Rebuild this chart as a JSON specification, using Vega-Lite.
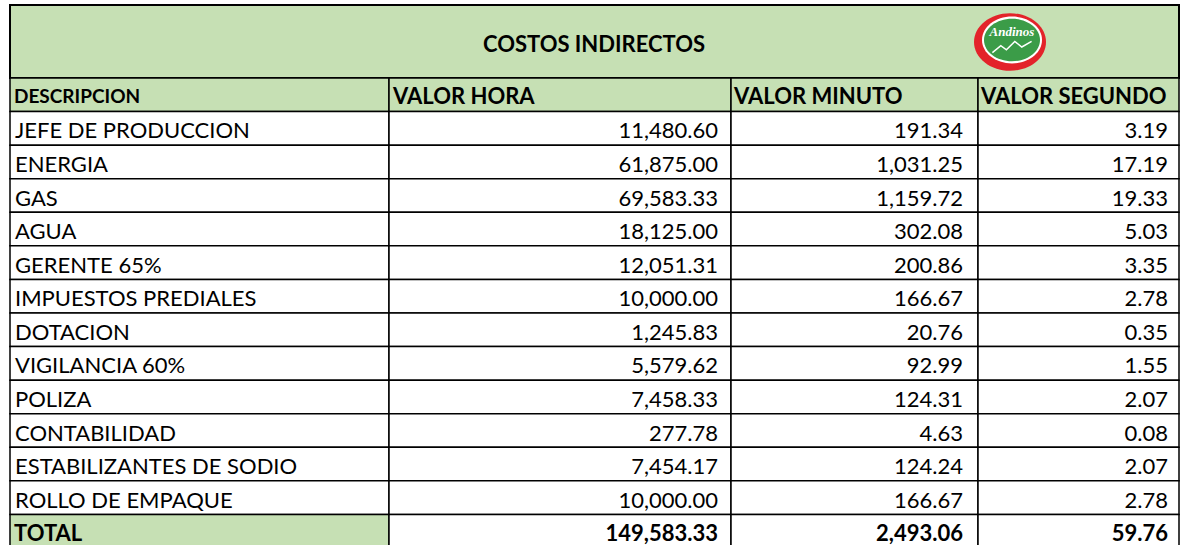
{
  "$schema": "https://vega.github.io/schema/vega-lite/v6.json",
  "background": "white",
  "padding": {"left": 9, "top": 4, "right": 0, "bottom": 0},
  "spacing": 0,
  "bounds": "flush",
  "config": {
    "view": {"stroke": null},
    "concat": {"spacing": 0},
    "text": {"font": "Lato", "fontSize": 22, "color": "black"}
  },
  "datasets": {
    "titulo": [{"texto": "COSTOS INDIRECTOS", "marca": "Andinos"}],
    "encabezados": [
      {"fila": 0, "columna": "descripcion", "titulo": "DESCRIPCION"},
      {"fila": 0, "columna": "hora", "titulo": "VALOR HORA"},
      {"fila": 0, "columna": "minuto", "titulo": "VALOR MINUTO"},
      {"fila": 0, "columna": "segundo", "titulo": "VALOR SEGUNDO"}
    ],
    "costos": [
      {"fila": 1, "descripcion": "JEFE DE PRODUCCION", "hora": 11480.60, "minuto": 191.34, "segundo": 3.19},
      {"fila": 2, "descripcion": "ENERGIA", "hora": 61875.00, "minuto": 1031.25, "segundo": 17.19},
      {"fila": 3, "descripcion": "GAS", "hora": 69583.33, "minuto": 1159.72, "segundo": 19.33},
      {"fila": 4, "descripcion": "AGUA", "hora": 18125.00, "minuto": 302.08, "segundo": 5.03},
      {"fila": 5, "descripcion": "GERENTE 65%", "hora": 12051.31, "minuto": 200.86, "segundo": 3.35},
      {"fila": 6, "descripcion": "IMPUESTOS PREDIALES", "hora": 10000.00, "minuto": 166.67, "segundo": 2.78},
      {"fila": 7, "descripcion": "DOTACION", "hora": 1245.83, "minuto": 20.76, "segundo": 0.35},
      {"fila": 8, "descripcion": "VIGILANCIA 60%", "hora": 5579.62, "minuto": 92.99, "segundo": 1.55},
      {"fila": 9, "descripcion": "POLIZA", "hora": 7458.33, "minuto": 124.31, "segundo": 2.07},
      {"fila": 10, "descripcion": "CONTABILIDAD", "hora": 277.78, "minuto": 4.63, "segundo": 0.08},
      {"fila": 11, "descripcion": "ESTABILIZANTES DE SODIO", "hora": 7454.17, "minuto": 124.24, "segundo": 2.07},
      {"fila": 12, "descripcion": "ROLLO DE EMPAQUE", "hora": 10000.00, "minuto": 166.67, "segundo": 2.78},
      {"fila": 13, "descripcion": "TOTAL", "hora": 149583.33, "minuto": 2493.06, "segundo": 59.76}
    ]
  },
  "vconcat": [
    {
      "width": 1169,
      "height": 73,
      "view": {"fill": "#c6e0b4", "stroke": "black", "strokeWidth": 2},
      "data": {"name": "titulo"},
      "layer": [
        {
          "mark": {"type": "text", "fontWeight": "bold", "fontSize": 22, "align": "center", "baseline": "middle", "dy": 3},
          "encoding": {"x": {"value": 584}, "y": {"value": 37}, "text": {"field": "texto"}}
        },
        {
          "mark": {"type": "point", "filled": true, "fill": "#e3232a", "opacity": 1, "shape": "M-1,0A1,0.8,0,1,0,1,0A1,0.8,0,1,0,-1,0Z"},
          "encoding": {"x": {"value": 1000}, "y": {"value": 37}, "size": {"value": 5184}}
        },
        {
          "mark": {"type": "point", "filled": true, "fill": "white", "opacity": 1, "shape": "M-1,0A1,0.78,0,1,0,1,0A1,0.78,0,1,0,-1,0Z"},
          "encoding": {"x": {"value": 1002}, "y": {"value": 35}, "size": {"value": 3600}}
        },
        {
          "mark": {"type": "point", "filled": true, "fill": "#3b9c48", "opacity": 1, "shape": "M-1,0A1,0.76,0,1,0,1,0A1,0.76,0,1,0,-1,0Z"},
          "encoding": {"x": {"value": 1002}, "y": {"value": 35}, "size": {"value": 3136}}
        },
        {
          "mark": {"type": "point", "filled": false, "stroke": "white", "strokeWidth": 1.5, "opacity": 1, "shape": "M-0.7,0.45L-0.4,0.2L-0.2,0.35L0.1,0.05L0.35,0.25L0.7,0.05"},
          "encoding": {"x": {"value": 1002}, "y": {"value": 35}, "size": {"value": 3136}}
        },
        {
          "mark": {"type": "text", "font": "Liberation Serif", "fontStyle": "italic", "fontWeight": "bold", "fontSize": 13, "fill": "white", "align": "center", "baseline": "middle"},
          "encoding": {"x": {"value": 1002}, "y": {"value": 27}, "text": {"field": "marca"}}
        }
      ]
    },
    {
      "spacing": 0,
      "bounds": "flush",
      "hconcat": [
        {
          "width": 379,
          "height": 470,
          "layer": [
            {
              "data": {"name": "encabezados"},
              "transform": [{"filter": "datum.columna === 'descripcion'"}],
              "mark": {"type": "rect", "fill": "#c6e0b4", "stroke": "black", "strokeWidth": 1.5},
              "encoding": {"x": {"value": 0}, "x2": {"value": "width"}, "y": {"field": "fila", "type": "ordinal", "axis": null, "scale": {"paddingInner": 0, "paddingOuter": 0}}}
            },
            {
              "data": {"name": "encabezados"},
              "transform": [{"filter": "datum.columna === 'descripcion'"}],
              "mark": {"type": "text", "fontWeight": "bold", "align": "left", "baseline": "middle", "dy": 2, "fontSize": 19},
              "encoding": {"x": {"value": 4}, "y": {"field": "fila", "type": "ordinal"}, "text": {"field": "titulo"}}
            },
            {
              "data": {"name": "costos"},
              "mark": {"type": "rect", "stroke": "black", "strokeWidth": 1.5},
              "encoding": {
                "x": {"value": 0}, "x2": {"value": "width"},
                "y": {"field": "fila", "type": "ordinal"},
                "fill": {"condition": {"test": "datum.descripcion === 'TOTAL'", "value": "#c6e0b4"}, "value": "white"}
              }
            },
            {
              "data": {"name": "costos"},
              "transform": [{"filter": "datum.descripcion !== 'TOTAL'"}],
              "mark": {"type": "text", "align": "left", "baseline": "middle", "dy": 3},
              "encoding": {"x": {"value": 5}, "y": {"field": "fila", "type": "ordinal"}, "text": {"field": "descripcion"}}
            },
            {
              "data": {"name": "costos"},
              "transform": [{"filter": "datum.descripcion === 'TOTAL'"}],
              "mark": {"type": "text", "align": "left", "baseline": "middle", "dy": 3, "fontWeight": "bold"},
              "encoding": {"x": {"value": 4}, "y": {"field": "fila", "type": "ordinal"}, "text": {"field": "descripcion"}}
            }
          ]
        },
        {
          "width": 342,
          "height": 470,
          "layer": [
            {
              "data": {"name": "encabezados"},
              "transform": [{"filter": "datum.columna === 'hora'"}],
              "mark": {"type": "rect", "fill": "#c6e0b4", "stroke": "black", "strokeWidth": 1.5},
              "encoding": {"x": {"value": 0}, "x2": {"value": "width"}, "y": {"field": "fila", "type": "ordinal", "axis": null, "scale": {"paddingInner": 0, "paddingOuter": 0}}}
            },
            {
              "data": {"name": "encabezados"},
              "transform": [{"filter": "datum.columna === 'hora'"}],
              "mark": {"type": "text", "fontWeight": "bold", "align": "left", "baseline": "middle", "dy": 2},
              "encoding": {"x": {"value": 4}, "y": {"field": "fila", "type": "ordinal"}, "text": {"field": "titulo"}}
            },
            {
              "data": {"name": "costos"},
              "mark": {"type": "rect", "fill": "white", "stroke": "black", "strokeWidth": 1.5},
              "encoding": {"x": {"value": 0}, "x2": {"value": "width"}, "y": {"field": "fila", "type": "ordinal"}}
            },
            {
              "data": {"name": "costos"},
              "transform": [{"filter": "datum.descripcion !== 'TOTAL'"}],
              "mark": {"type": "text", "align": "right", "baseline": "middle", "dy": 3, "dx": -13},
              "encoding": {"x": {"value": "width"}, "y": {"field": "fila", "type": "ordinal"}, "text": {"field": "hora", "type": "quantitative", "format": ",.2f"}}
            },
            {
              "data": {"name": "costos"},
              "transform": [{"filter": "datum.descripcion === 'TOTAL'"}],
              "mark": {"type": "text", "align": "right", "baseline": "middle", "dy": 3, "dx": -13, "fontWeight": "bold"},
              "encoding": {"x": {"value": "width"}, "y": {"field": "fila", "type": "ordinal"}, "text": {"field": "hora", "type": "quantitative", "format": ",.2f"}}
            }
          ]
        },
        {
          "width": 247,
          "height": 470,
          "layer": [
            {
              "data": {"name": "encabezados"},
              "transform": [{"filter": "datum.columna === 'minuto'"}],
              "mark": {"type": "rect", "fill": "#c6e0b4", "stroke": "black", "strokeWidth": 1.5},
              "encoding": {"x": {"value": 0}, "x2": {"value": "width"}, "y": {"field": "fila", "type": "ordinal", "axis": null, "scale": {"paddingInner": 0, "paddingOuter": 0}}}
            },
            {
              "data": {"name": "encabezados"},
              "transform": [{"filter": "datum.columna === 'minuto'"}],
              "mark": {"type": "text", "fontWeight": "bold", "align": "left", "baseline": "middle", "dy": 2},
              "encoding": {"x": {"value": 3}, "y": {"field": "fila", "type": "ordinal"}, "text": {"field": "titulo"}}
            },
            {
              "data": {"name": "costos"},
              "mark": {"type": "rect", "fill": "white", "stroke": "black", "strokeWidth": 1.5},
              "encoding": {"x": {"value": 0}, "x2": {"value": "width"}, "y": {"field": "fila", "type": "ordinal"}}
            },
            {
              "data": {"name": "costos"},
              "transform": [{"filter": "datum.descripcion !== 'TOTAL'"}],
              "mark": {"type": "text", "align": "right", "baseline": "middle", "dy": 3, "dx": -15},
              "encoding": {"x": {"value": "width"}, "y": {"field": "fila", "type": "ordinal"}, "text": {"field": "minuto", "type": "quantitative", "format": ",.2f"}}
            },
            {
              "data": {"name": "costos"},
              "transform": [{"filter": "datum.descripcion === 'TOTAL'"}],
              "mark": {"type": "text", "align": "right", "baseline": "middle", "dy": 3, "dx": -15, "fontWeight": "bold"},
              "encoding": {"x": {"value": "width"}, "y": {"field": "fila", "type": "ordinal"}, "text": {"field": "minuto", "type": "quantitative", "format": ",.2f"}}
            }
          ]
        },
        {
          "width": 201,
          "height": 470,
          "layer": [
            {
              "data": {"name": "encabezados"},
              "transform": [{"filter": "datum.columna === 'segundo'"}],
              "mark": {"type": "rect", "fill": "#c6e0b4", "stroke": "black", "strokeWidth": 1.5},
              "encoding": {"x": {"value": 0}, "x2": {"value": "width"}, "y": {"field": "fila", "type": "ordinal", "axis": null, "scale": {"paddingInner": 0, "paddingOuter": 0}}}
            },
            {
              "data": {"name": "encabezados"},
              "transform": [{"filter": "datum.columna === 'segundo'"}],
              "mark": {"type": "text", "fontWeight": "bold", "align": "left", "baseline": "middle", "dy": 2},
              "encoding": {"x": {"value": 3}, "y": {"field": "fila", "type": "ordinal"}, "text": {"field": "titulo"}}
            },
            {
              "data": {"name": "costos"},
              "mark": {"type": "rect", "fill": "white", "stroke": "black", "strokeWidth": 1.5},
              "encoding": {"x": {"value": 0}, "x2": {"value": "width"}, "y": {"field": "fila", "type": "ordinal"}}
            },
            {
              "data": {"name": "costos"},
              "transform": [{"filter": "datum.descripcion !== 'TOTAL'"}],
              "mark": {"type": "text", "align": "right", "baseline": "middle", "dy": 3, "dx": -11},
              "encoding": {"x": {"value": "width"}, "y": {"field": "fila", "type": "ordinal"}, "text": {"field": "segundo", "type": "quantitative", "format": ",.2f"}}
            },
            {
              "data": {"name": "costos"},
              "transform": [{"filter": "datum.descripcion === 'TOTAL'"}],
              "mark": {"type": "text", "align": "right", "baseline": "middle", "dy": 3, "dx": -11, "fontWeight": "bold"},
              "encoding": {"x": {"value": "width"}, "y": {"field": "fila", "type": "ordinal"}, "text": {"field": "segundo", "type": "quantitative", "format": ",.2f"}}
            }
          ]
        }
      ]
    }
  ]
}
